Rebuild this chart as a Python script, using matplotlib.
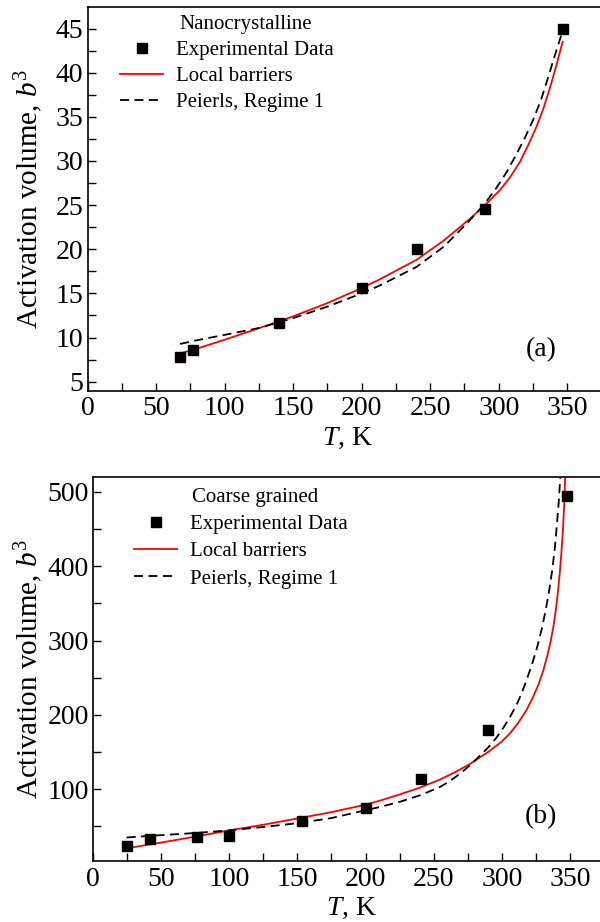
import matplotlib
matplotlib.use("Agg")
import matplotlib.pyplot as plt
from matplotlib.ticker import MultipleLocator

plt.rcParams['font.family'] = ['Liberation Serif', 'DejaVu Serif']
plt.rcParams['mathtext.fontset'] = 'custom'
plt.rcParams['mathtext.rm'] = 'Liberation Serif'
plt.rcParams['mathtext.it'] = 'Liberation Serif:italic'

# (a) nanocrystalline
T_exp_a = [67.5, 77.2, 139.9, 200, 240, 290, 346.8]
V_exp_a = [7.76, 8.63, 11.66, 15.6, 20.0, 24.6, 44.9]

T_loc_a = [67.5, 80, 100, 125.8, 150, 175, 200, 213.3, 240, 260, 277.8, 290, 300.9, 308, 315.5,
           321.5, 327.6, 332.5, 337.4, 342, 346.6]
V_loc_a = [8.2, 8.75, 9.75, 11.1, 12.4, 13.9, 15.6, 16.6, 18.8, 21.0, 23.3, 25.0, 26.7, 28.1, 29.9,
           31.8, 33.9, 35.9, 38.3, 40.8, 43.5]

T_pei_a = [67.5, 80, 100, 125.8, 150, 175, 200, 213.3, 240, 260, 279, 289, 298.5, 306, 313,
           319, 325.2, 331, 336.1, 341, 345.9]
V_pei_a = [9.27, 9.7, 10.3, 11.1, 12.2, 13.5, 15.0, 15.9, 18.0, 20.3, 23.3, 25.0, 27.0, 28.8, 30.8,
           32.6, 34.7, 37.0, 39.5, 42.0, 44.4]

# (b) coarse grained
T_exp_b = [24.7, 41.8, 76.6, 99.9, 153.7, 200.2, 240.6, 290.2, 347.5]
V_exp_b = [23, 32.6, 35, 37, 57, 74, 113, 179, 494]

T_loc_b = [24.7, 50, 75, 100.6, 125, 149.6, 175, 200, 210.7, 225.4, 240, 254.8, 266, 276.8, 290, 300,
           306, 312, 318, 323, 327, 330.5, 333.5, 336, 338, 339.8, 341.3, 342.6, 343.8, 344.9, 345.8, 346.5]
V_loc_b = [20.3, 28, 36, 44.6, 52, 60.3, 69, 79, 84.5, 93, 102, 113, 123, 134, 150, 164,
           175, 189, 206, 224, 241, 260, 280, 300, 320, 343, 367, 392, 420, 450, 482, 519]

T_pei_b = [24.7, 50, 76.1, 100.6, 125, 149.6, 175, 210.7, 225.4, 240.6, 254.8, 262, 269.5, 276, 281.7, 290,
           296.4, 301.3, 306, 311, 315, 318.4, 322, 325.8, 329, 331.9, 334.5, 336.8, 338.8, 340.4, 341.8, 342.9]
V_pei_b = [34.9, 38, 41, 44.6, 49, 54, 61, 76, 83, 92, 103, 111, 121, 131, 141, 156,
           170, 183, 197, 214, 231, 248, 267, 290, 313, 338, 364, 392, 422, 455, 487, 519]

panels = [
    dict(rect=[0.146, 0.576, 0.868, 0.4165], T=(T_exp_a, T_loc_a, T_pei_a), V=(V_exp_a, V_loc_a, V_pei_a),
         ylim=(3.95, 47.45), major=5, minor=2.5, title='Nanocrystalline', title_xy=(0.304, 0.954),
         leg_xy=(0.051, 0.928), spacing=0.3, tag='(a)', tag_xy=(0.87, 0.107), ylpad=8),
    dict(rect=[0.155, 0.066, 0.863, 0.4165], T=(T_exp_b, T_loc_b, T_pei_b), V=(V_exp_b, V_loc_b, V_pei_b),
         ylim=(3, 520), major=100, minor=50, title='Coarse grained', title_xy=(0.313, 0.948),
         leg_xy=(0.068, 0.919), spacing=0.37, tag='(b)', tag_xy=(0.865, 0.117), ylpad=2),
]

fig = plt.figure(figsize=(6, 9.22), dpi=100)

for p in panels:
    ax = fig.add_axes(p['rect'])
    te, tl, tp = p['T']
    ve, vl, vp = p['V']
    ax.plot(te, ve, 's', color='black', markersize=7, label='Experimental Data', zorder=3)
    ax.plot(tl, vl, '-', color='red', lw=1.3, label='Local barriers')
    ax.plot(tp, vp, '--', color='black', lw=1.3, dashes=(5, 3), label='Peierls, Regime 1')
    ax.set_xlim(0, 380)
    ax.set_ylim(*p['ylim'])
    ax.xaxis.set_major_locator(MultipleLocator(50))
    ax.xaxis.set_minor_locator(MultipleLocator(25))
    ax.yaxis.set_major_locator(MultipleLocator(p['major']))
    ax.yaxis.set_minor_locator(MultipleLocator(p['minor']))
    ax.tick_params(which='both', direction='in', top=False, right=False, labelsize=20,
                   length=6, width=1)
    ax.tick_params(axis='x', which='both', pad=4)
    ax.tick_params(axis='y', which='both', pad=3)
    for s in ax.spines.values():
        s.set_linewidth(1.2)
    ax.set_xlabel('$T$, K', fontsize=20, labelpad=3)
    ax.set_ylabel('Activation volume, $b^3$', fontsize=21, labelpad=p['ylpad'])
    ax.text(p['tag_xy'][0], p['tag_xy'][1], p['tag'], transform=ax.transAxes, fontsize=20,
            ha='center', va='center')
    ax.text(p['title_xy'][0], p['title_xy'][1], p['title'], transform=ax.transAxes, fontsize=15,
            ha='center', va='center')
    ax.legend(loc='upper left', bbox_to_anchor=p['leg_xy'], borderaxespad=0, frameon=False,
              fontsize=15, handlelength=2.05, handletextpad=0.6, labelspacing=p['spacing'],
              borderpad=0.3)

fig.savefig('out.png', dpi=100)
